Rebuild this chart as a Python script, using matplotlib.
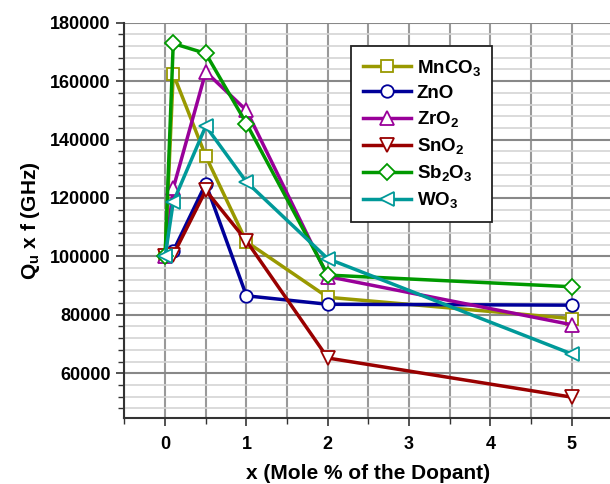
import matplotlib
matplotlib.use('Agg')
import matplotlib.pyplot as plt
from matplotlib.ticker import MultipleLocator

plt.rcParams['font.family'] = ['Liberation Sans', 'DejaVu Sans']
plt.rcParams['font.weight'] = 'bold'
plt.rcParams['mathtext.fontset'] = 'custom'
plt.rcParams['mathtext.bf'] = 'Liberation Sans:bold'
plt.rcParams['mathtext.rm'] = 'Liberation Sans:bold'
plt.rcParams['mathtext.default'] = 'bf'

# mole % of dopant
x = [0, 0.1, 0.5, 1, 2, 5]

mnco3 = [100000, 162500, 134300, 105000, 86000, 78700]
zno = [100000, 101800, 124900, 86500, 83600, 83300]
zro2 = [100000, 123300, 163200, 150000, 93100, 76600]
sno2 = [100000, 100500, 122600, 105300, 65200, 51800]
sb2o3 = [100000, 172900, 169500, 145500, 93600, 89600]
wo3 = [100000, 118600, 144600, 125500, 99200, 66600]

names = ['MnCO$_3$', 'ZnO', 'ZrO$_2$', 'SnO$_2$', 'Sb$_2$O$_3$', 'WO$_3$']
series = [mnco3, zno, zro2, sno2, sb2o3, wo3]
colors = ['#999900', '#000099', '#990099', '#990000', '#009900', '#009999']
markers = ['s', 'o', '^', 'v', 'D', '<']
msizes = [8, 9, 10, 10, 8.5, 10]

fig = plt.figure(figsize=(6.1, 4.84), dpi=100)
ax = fig.add_axes([0.204, 0.136, 0.80, 0.817])

for vals, name, c, m, ms in zip(series, names, colors, markers, msizes):
    ax.plot(x, vals, color=c, lw=2.5, marker=m, ms=ms, mfc='white',
            mec=c, mew=1.3, label=name)

ax.set_xlim(-0.5, 5.5)
ax.set_ylim(44600, 180000)
ax.xaxis.set_major_locator(MultipleLocator(1))
ax.xaxis.set_minor_locator(MultipleLocator(0.5))
ax.yaxis.set_major_locator(MultipleLocator(20000))
ax.yaxis.set_minor_locator(MultipleLocator(4000))

ax.grid(which='minor', axis='y', color='#d4d4d4', lw=1.2, zorder=0)
ax.grid(which='major', axis='y', color='#888888', lw=1.5, zorder=0)
ax.grid(which='both', axis='x', color='#999999', lw=1.5, zorder=0)
ax.set_axisbelow(True)

for s in ['top', 'right']:
    ax.spines[s].set_visible(False)
ax.spines['left'].set_linewidth(1.5)
ax.spines['bottom'].set_linewidth(1.5)
ax.spines['left'].set_color('#333333')
ax.spines['bottom'].set_color('#333333')

ax.tick_params(which='major', direction='out', length=6, width=1.2,
               labelsize=13, color='#333333')
ax.tick_params(which='minor', direction='out', length=4, width=1.0,
               color='#333333')
ax.tick_params(axis='x', pad=7)
ax.tick_params(axis='y', pad=4)
for lab in ax.get_xticklabels() + ax.get_yticklabels():
    lab.set_fontweight('bold')

ax.set_xlabel('x (Mole % of the Dopant)', fontsize=15, fontweight='bold',
              labelpad=8)
ax.set_ylabel('Q$_u$ x f (GHz)', fontsize=15, fontweight='bold', labelpad=6)

leg = ax.legend(loc='upper left', bbox_to_anchor=(0.465, 0.94),
                fontsize=13.5, frameon=True, fancybox=False,
                edgecolor='#222222', handlelength=2.6, borderpad=0.6,
                labelspacing=0.38, handletextpad=0.3, borderaxespad=0)
leg.get_frame().set_linewidth(1.3)
leg.get_frame().set_alpha(1)

fig.savefig('out.png', dpi=100)
